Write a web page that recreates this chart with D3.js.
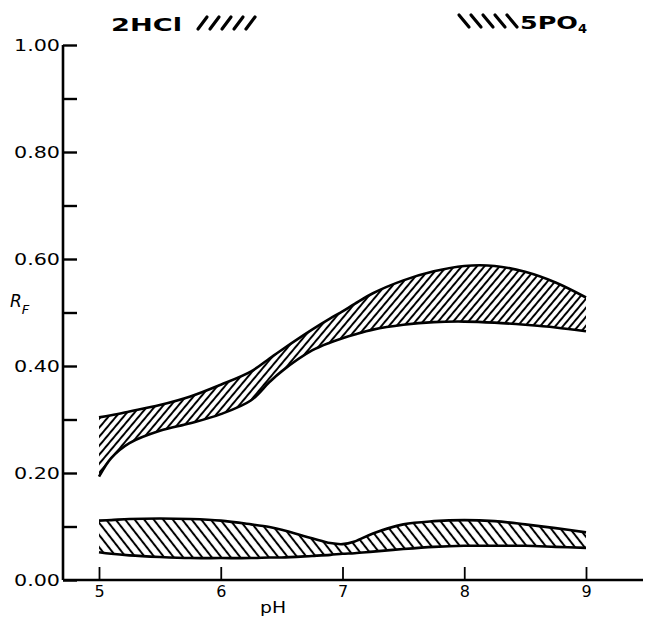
<!DOCTYPE html>
<html><head><meta charset="utf-8">
<script src="https://cdn.jsdelivr.net/npm/d3@7"></script>
<style>body{margin:0;background:#fff}svg{display:block}</style>
</head><body>
<script>
// ---- data ----
const pH = [5, 5.1, 5.25, 5.5, 5.75, 6, 6.25, 6.4, 6.5, 6.75, 6.9, 7, 7.1, 7.25, 7.5, 7.75, 8, 8.25, 8.5, 8.75, 9];
const hclTop    = [0.304,0.308,0.315,0.327,0.343,0.365,0.390,0.414,0.430,0.468,0.489,0.502,0.516,0.536,0.560,0.577,0.587,0.587,0.576,0.556,0.528];
const hclBottom = [0.193,0.228,0.256,0.279,0.293,0.310,0.336,0.370,0.390,0.429,0.444,0.452,0.459,0.468,0.477,0.482,0.483,0.481,0.477,0.472,0.465];
const po4Top    = [0.111,0.112,0.114,0.115,0.114,0.111,0.104,0.099,0.094,0.078,0.069,0.067,0.072,0.087,0.104,0.110,0.112,0.110,0.104,0.097,0.089];
const po4Bottom = [0.052,0.049,0.046,0.043,0.041,0.041,0.041,0.042,0.042,0.045,0.047,0.049,0.050,0.053,0.058,0.062,0.064,0.064,0.064,0.062,0.060];
const xTicks = [5, 6, 7, 8, 9];
const yTicks = [0,0.1,0.2,0.3,0.4,0.5,0.6,0.7,0.8,0.9,1.0];
const yTickLabels = {"0":"0.00","0.2":"0.20","0.4":"0.40","0.6":"0.60","0.8":"0.80","1":"1.00"};
const legendLabels = ["2HCl", "5PO"];

const W = 645, H = 620;
const svg = d3.select("body").append("svg").attr("width", W).attr("height", H);
const x = d3.scaleLinear().domain([5, 9]).range([99, 586]);
const y = d3.scaleLinear().domain([0, 1]).range([580, 45]);
const font = "'DejaVu Sans', sans-serif";

const defs = svg.append("defs");
function hatch(id, size, angle, sw) {
  const p = defs.append("pattern").attr("id", id).attr("patternUnits", "userSpaceOnUse")
    .attr("width", size).attr("height", size).attr("patternTransform", `rotate(${angle})`);
  p.append("line").attr("x1", size/2).attr("x2", size/2).attr("y1", -1).attr("y2", size+1)
    .attr("stroke", "#000").attr("stroke-width", sw);
}
hatch("fwd", 5.8, 40, 2);
hatch("back", 7.5, -38, 2);

const rows = (top, bot) => pH.map((p, i) => ({x: p, t: top[i], b: bot[i]}));
const curve = d3.curveCatmullRom.alpha(0.5);
const area = d3.area().x(d => x(d.x)).y0(d => y(d.b)).y1(d => y(d.t)).curve(curve);
const lineT = d3.line().x(d => x(d.x)).y(d => y(d.t)).curve(curve);
const lineB = d3.line().x(d => x(d.x)).y(d => y(d.b)).curve(curve);

[[rows(hclTop, hclBottom), "fwd"], [rows(po4Top, po4Bottom), "back"]].forEach(([d, pat]) => {
  svg.append("path").datum(d).attr("d", area).attr("fill", `url(#${pat})`);
  svg.append("path").datum(d).attr("d", lineT).attr("fill", "none").attr("stroke", "#000").attr("stroke-width", 2.6);
  svg.append("path").datum(d).attr("d", lineB).attr("fill", "none").attr("stroke", "#000").attr("stroke-width", 2.6);
});

// axes
const yAxis = d3.axisLeft(y).tickValues(yTicks).tickSizeInner(-14).tickSizeOuter(0).tickPadding(3)
  .tickFormat(d => yTickLabels[String(+d.toFixed(1))] || "");
const gy = svg.append("g").attr("transform", "translate(63,0)").call(yAxis);
gy.select(".domain").attr("stroke-width", 2.6).attr("d", `M0,${y(1)}V${y(0)}`);
gy.selectAll(".tick line").attr("stroke-width", 2.4);
gy.selectAll("text").attr("font-family", font).attr("font-size", 16).attr("fill", "#000")
  .each(function() { if (this.textContent) d3.select(this).attr("textLength", 46).attr("lengthAdjust", "spacingAndGlyphs"); });

const xAxis = d3.axisBottom(x).tickValues(xTicks).tickSizeInner(-13).tickSizeOuter(0).tickPadding(6).tickFormat(d3.format("d"));
const gx = svg.append("g").attr("transform", "translate(0,580)").call(xAxis);
gx.select(".domain").attr("stroke-width", 2.6).attr("d", "M63,0H643");
gx.selectAll(".tick line").attr("stroke-width", 1.8);
gx.selectAll("text").attr("font-family", font).attr("font-size", 16).attr("fill", "#000");

svg.append("text").attr("x", 273).attr("y", 613).attr("text-anchor", "middle")
  .attr("font-family", font).attr("font-size", 16).attr("textLength", 26).attr("lengthAdjust", "spacingAndGlyphs").text("pH");

const rf = svg.append("text").attr("x", 10).attr("y", 307).attr("font-family", font).attr("font-style", "italic").attr("font-size", 17);
rf.append("tspan").text("R");
rf.append("tspan").attr("dy", 7).attr("font-size", 13).text("F");

// legend
svg.append("text").attr("x", 111).attr("y", 31).attr("font-family", font).attr("font-weight", "bold")
  .attr("font-size", 18).attr("textLength", 71).attr("lengthAdjust", "spacingAndGlyphs").text(legendLabels[0]);
const lg = svg.append("g").attr("stroke", "#000").attr("stroke-width", 3.2).attr("stroke-linecap", "round");
d3.range(5).forEach(i => {
  const x0 = 198 + i * 12;
  lg.append("line").attr("x1", x0).attr("y1", 29).attr("x2", x0 + 9).attr("y2", 17);
  const x1 = 459 + i * 12;
  lg.append("line").attr("x1", x1).attr("y1", 15).attr("x2", x1 + 10).attr("y2", 27);
});
const po = svg.append("text").attr("x", 520).attr("y", 29).attr("font-family", font).attr("font-weight", "bold").attr("font-size", 18);
po.append("tspan").attr("textLength", 58).attr("lengthAdjust", "spacingAndGlyphs").text(legendLabels[1]);
po.append("tspan").attr("dy", 4).attr("font-size", 13).text("4");
</script>
</body></html>
